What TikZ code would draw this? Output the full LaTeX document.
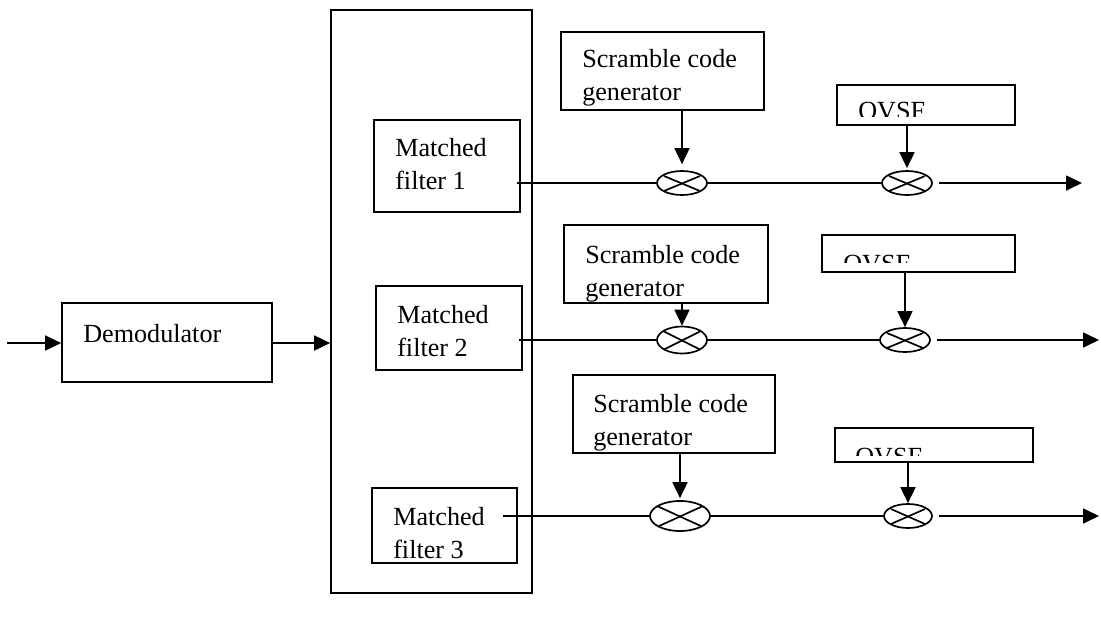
\documentclass[tikz,border=0pt]{standalone}
\usepackage{fontspec}
\setmainfont{Liberation Serif}
\usetikzlibrary{arrows.meta,fit,shapes.geometric}

\tikzset{
   blk/.style={draw,line width=1.2pt,inner sep=0pt},
   lbl/.style={anchor=base west,inner sep=0pt,align=left,
      font=\fontsize{18.6}{22.8}\selectfont},
   sig/.style={line width=1.2pt},
   arr/.style={line width=1.2pt,-{Triangle[length=0.4cm,width=0.375cm]}},
   mult/.style={draw,ellipse,line width=1.2pt,inner sep=0pt,
      minimum width=1.25cm,minimum height=0.6cm,
      path picture={
         \draw [line width=1.2pt]
            ([shift={(0.175cm,-0.125cm)}]path picture bounding box.north west) --
            ([shift={(-0.175cm,0.1cm)}]path picture bounding box.south east);
         \draw [line width=1.2pt]
            ([shift={(-0.175cm,-0.125cm)}]path picture bounding box.north east) --
            ([shift={(0.175cm,0.1cm)}]path picture bounding box.south west);
      }}
}

\begin{document}
\begin{tikzpicture}[x=0.025cm,y=-0.025cm]
            \useasboundingbox (0,0) rectangle (1101,620);

            % demodulator and filter bank
            \node [blk,fit={(62,303) (272,382)}] (dem) {};
            \node [lbl] (tdem) at (83,342) {Demodulator};
            \node [blk,fit={(331,10) (532,593)}] (bank) {};
            \coordinate (in) at (7,343);
            \draw [arr] 
               (in) -- (in -| dem.west);
            \draw [arr] 
               (dem.east |- in) -- (in -| bank.west);

            % the base anchor sits on the last line
            \node [blk,fit={(374,120) (520,212)}] (mf1) {};
            \node [lbl] (tmf1) at (395,189) {Matched\\filter 1};
            \node [blk,fit={(376,286) (522,370)}] (mf2) {};
            \node [lbl] (tmf2) at (397,356) {Matched\\filter 2};
            \node [blk,fit={(372,488) (517,563)}] (mf3) {};
            \node [lbl] (tmf3) at (393,558) {Matched\\filter 3};

            % scramble code generators
            \node [blk,fit={(561,32) (764,110)}] (sc1) {};
            \node [lbl] (tsc1) at (582,100) {Scramble code\\generator};
            \node [blk,fit={(564,225) (768,303)}] (sc2) {};
            \node [lbl] (tsc2) at (585,296) {Scramble code\\generator};
            \node [blk,fit={(573,375) (775,453)}] (sc3) {};
            \node [lbl] (tsc3) at (593,445) {Scramble code\\generator};

            % OVSF boxes, text cut by the box
            \node [blk,fit={(837,85) (1015,125)}] (ov1) {};
            \begin{scope}
               \clip (837,85) rectangle (1015,116);
               \node [lbl] (tov1) at (858,119) {OVSF};
            \end{scope}
            \node [blk,fit={(822,235) (1015,272)}] (ov2) {};
            \begin{scope}
               \clip (822,235) rectangle (1015,262);
               \node [lbl] (tov2) at (843,272) {OVSF};
            \end{scope}
            \node [blk,fit={(835,428) (1033,462)}] (ov3) {};
            \begin{scope}
               \clip (835,428) rectangle (1033,455);
               \node [lbl] (tov3) at (855,465) {OVSF};
            \end{scope}

            % multipliers
            \node [mult] (e1a) at (682,183) {};
            \node [mult] (e1b) at (907,183) {};
            \node [mult,minimum height=0.675cm] (e2a) at (682,340) {};
            \node [mult] (e2b) at (905,340) {};
            \node [mult,minimum width=1.5cm,minimum height=0.75cm] (e3a) at (680,516) {};
            \node [mult,minimum width=1.2cm] (e3b) at (908,516) {};

            % branch 1
            \coordinate (o1) at (517,183);
            \coordinate (q1) at (1082,183);
            \draw [sig] 
               (o1) -- (e1a.west);
            \draw [sig] 
               (e1a.east) -- (e1b.west);
            \draw [arr] 
               ([xshift=0.15cm]e1b.east) -- (q1);
            \draw [arr] 
               (sc1.south -| e1a) -- ([yshift=0.15cm]e1a.north);
            \draw [arr] 
               (ov1.south -| e1b) -- ([yshift=0.05cm]e1b.north);

            % branch 2
            \coordinate (o2) at (519,340);
            \coordinate (q2) at (1099,340);
            \draw [sig] 
               (o2) -- (e2a.west);
            \draw [sig] 
               (e2a.east) -- (e2b.west);
            \draw [arr] 
               ([xshift=0.15cm]e2b.east) -- (q2);
            \draw [arr] 
               (sc2.south -| e2a) -- (e2a.north);
            \draw [arr] 
               (ov2.south -| e2b) -- (e2b.north);

            % branch 3
            \coordinate (o3) at (503,516);
            \coordinate (q3) at (1099,516);
            \draw [sig] 
               (o3) -- (e3a.west);
            \draw [sig] 
               (e3a.east) -- (e3b.west);
            \draw [arr] 
               ([xshift=0.15cm]e3b.east) -- (q3);
            \draw [arr] 
               (sc3.south -| e3a) -- ([yshift=0.05cm]e3a.north);
            \draw [arr] 
               (ov3.south -| e3b) -- (e3b.north);
\end{tikzpicture}
\end{document}
